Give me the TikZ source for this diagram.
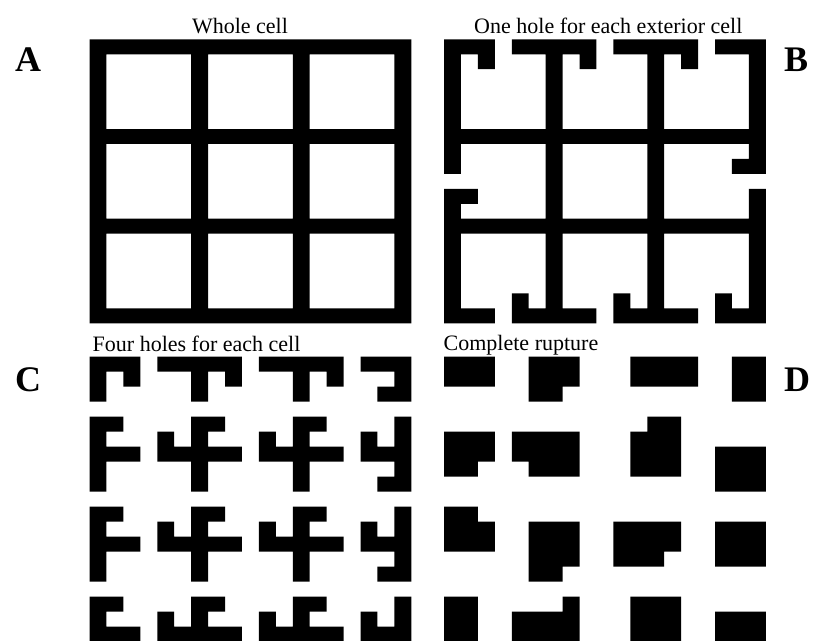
\documentclass[tikz,border=0pt]{standalone}
\usepackage{fontspec}
\setmainfont{Liberation Serif}
\begin{document}
\begin{tikzpicture}[x=1pt,y=-1pt,
  wall/.style={fill=black},
  title/.style={inner sep=0pt,font=\fontsize{22}{26}\selectfont},
  letter/.style={inner sep=0pt,font=\bfseries\fontsize{36}{42}\selectfont}]
\useasboundingbox (0,0) rectangle (832,640);
\clip (0,0) rectangle (832,640);
\fill[white] (0,0) rectangle (832,640);

% titles and panel letters
\node[title,anchor=base] (tA) at (240,33.3) {Whole cell};
\node[title,anchor=base] (tB) at (608.3,33.3) {One hole for each exterior cell};
\node[title,anchor=base west] (tC) at (92.5,351.7) {Four holes for each cell};
\node[title,anchor=base west] (tD) at (443.5,350.7) {Complete rupture};
\node[letter] (lA) at (28,60) {A};
\node[letter] (lB) at (796,60) {B};
\node[letter] (lC) at (28,380) {C};
\node[letter] (lD) at (797,380) {D};

% Panel A: whole cell
\begin{scope}[shift={(89.5,39.3)},x=16.94pt,y=-14.95pt]
\fill[wall] (0,0) rectangle (19,1) (0,6) rectangle (19,7)
  (0,12) rectangle (19,13) (0,18) rectangle (19,19)
  (0,0) rectangle (1,19) (6,0) rectangle (7,19)
  (12,0) rectangle (13,19) (18,0) rectangle (19,19);
\end{scope}

% Panel B: one hole for each exterior cell
\begin{scope}[shift={(444,39.3)},x=16.94pt,y=-14.95pt]
\fill[wall]
  (0,0) rectangle (3,1) (4,0) rectangle (9,1) (10,0) rectangle (15,1) (16,0) rectangle (19,1)
  (2,1) rectangle (3,2) (8,1) rectangle (9,2) (14,1) rectangle (15,2)
  (0,0) rectangle (1,9) (6,0) rectangle (7,19) (12,0) rectangle (13,19) (18,0) rectangle (19,9)
  (17,8) rectangle (18,9)
  (0,6) rectangle (19,7) (0,12) rectangle (19,13)
  (0,10) rectangle (1,19) (1,10) rectangle (2,11) (18,10) rectangle (19,19)
  (0,18) rectangle (3,19) (4,18) rectangle (9,19) (10,18) rectangle (15,19) (16,18) rectangle (19,19)
  (4,17) rectangle (5,18) (10,17) rectangle (11,18) (16,17) rectangle (17,18);
\end{scope}

% Panel C: four holes for each cell
\begin{scope}[shift={(89.5,356.7)},x=16.94pt,y=-15pt]
\fill[wall]
  (0,0) rectangle (3,1) (0,0) rectangle (1,3) (2,1) rectangle (3,2)
  (4,0) rectangle (9,1) (6,0) rectangle (7,3) (8,1) rectangle (9,2)
  (10,0) rectangle (15,1) (12,0) rectangle (13,3) (14,1) rectangle (15,2)
  (16,0) rectangle (19,1) (18,0) rectangle (19,3) (17,2) rectangle (18,3);
\foreach \w in {6,12,18}{
  \fill[wall]
    (0,\w-2) rectangle (1,\w+3) (1,\w-2) rectangle (2,\w-1) (0,\w) rectangle (3,\w+1)
    (6,\w-2) rectangle (7,\w+3) (7,\w-2) rectangle (8,\w-1) (4,\w-1) rectangle (5,\w+1) (4,\w) rectangle (9,\w+1)
    (12,\w-2) rectangle (13,\w+3) (13,\w-2) rectangle (14,\w-1) (10,\w-1) rectangle (11,\w+1) (10,\w) rectangle (15,\w+1)
    (18,\w-2) rectangle (19,\w+3) (16,\w-1) rectangle (17,\w+1) (16,\w) rectangle (19,\w+1) (17,\w+2) rectangle (18,\w+3);
}
\end{scope}

% Panel D: complete rupture
\begin{scope}[shift={(444,356.7)},x=16.94pt,y=-15pt]
\fill[wall]
  (0,0) rectangle (3,2)
  (5,0) rectangle (8,2) (5,2) rectangle (7,3)
  (11,0) rectangle (15,2)
  (17,0) rectangle (19,3)
  (0,5) rectangle (3,7) (0,7) rectangle (2,8)
  (4,5) rectangle (8,7) (5,7) rectangle (8,8)
  (11,5) rectangle (14,8) (12,4) rectangle (14,5)
  (16,6) rectangle (19,9)
  (0,11) rectangle (3,13) (0,10) rectangle (2,11)
  (5,11) rectangle (8,14) (5,14) rectangle (7,15)
  (10,11) rectangle (14,13) (10,13) rectangle (13,14)
  (16,11) rectangle (19,14)
  (0,16) rectangle (2,19)
  (4,17) rectangle (8,19) (7,16) rectangle (8,17)
  (11,16) rectangle (14,19)
  (16,17) rectangle (19,19);
\end{scope}
\end{tikzpicture}
\end{document}
